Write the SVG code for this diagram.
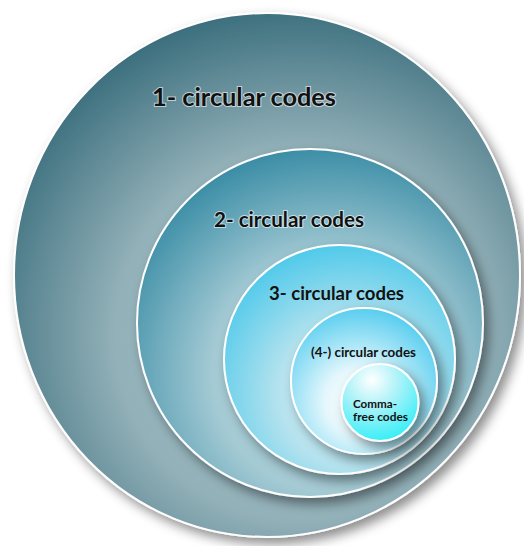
<svg xmlns="http://www.w3.org/2000/svg" width="524" height="546" viewBox="0 0 524 546">
<defs>
<filter id="sh" x="-20%" y="-20%" width="150%" height="150%">
<feDropShadow dx="5" dy="6" stdDeviation="6" flood-color="#000" flood-opacity="0.45"/>
</filter>
<radialGradient id="g1" gradientUnits="userSpaceOnUse" cx="300" cy="335" r="335">
<stop offset="0" stop-color="#a3bec6"/>
<stop offset="0.55" stop-color="#93b1b9"/>
<stop offset="1" stop-color="#386c7b"/>
</radialGradient>
<radialGradient id="g2" gradientUnits="userSpaceOnUse" cx="330" cy="375" r="235">
<stop offset="0" stop-color="#b5d5dd"/>
<stop offset="0.5" stop-color="#a4cad4"/>
<stop offset="1" stop-color="#358aa3"/>
</radialGradient>
<radialGradient id="g3" gradientUnits="userSpaceOnUse" cx="350" cy="395" r="160">
<stop offset="0" stop-color="#e2f4f8"/>
<stop offset="0.45" stop-color="#b4e2ee"/>
<stop offset="1" stop-color="#45c7ea"/>
</radialGradient>
<radialGradient id="g4" gradientUnits="userSpaceOnUse" cx="358" cy="402" r="95">
<stop offset="0" stop-color="#ffffff"/>
<stop offset="0.35" stop-color="#e4f7fc"/>
<stop offset="1" stop-color="#56cdef"/>
</radialGradient>
<radialGradient id="g5" gradientUnits="userSpaceOnUse" cx="372" cy="380" r="62">
<stop offset="0" stop-color="#ffffff"/>
<stop offset="0.4" stop-color="#b2f3f8"/>
<stop offset="1" stop-color="#38eef8"/>
</radialGradient>
</defs>
<style>
.c{stroke:#ffffff;stroke-width:2;filter:url(#sh)}
text{font-family:Lato,"Open Sans","Liberation Sans",sans-serif;font-weight:bold;fill:#111;text-anchor:middle}
.o{stroke:#ffffff;stroke-opacity:0.6;stroke-width:2;paint-order:stroke}
</style>
<g id="n1">
<ellipse class="c" cx="267" cy="275" rx="253" ry="262" fill="url(#g1)"/>
<text class="o" x="244" y="106" font-size="24" textLength="184" lengthAdjust="spacingAndGlyphs">1- circular codes</text>
</g>
<g id="n2">
<ellipse class="c" cx="310" cy="323" rx="173" ry="174" fill="url(#g2)"/>
<text class="o" x="289" y="227" font-size="20" textLength="150" lengthAdjust="spacingAndGlyphs">2- circular codes</text>
</g>
<g id="n3">
<ellipse class="c" cx="339.5" cy="359.5" rx="115.5" ry="114.5" fill="url(#g3)"/>
<text x="336.5" y="300" font-size="18.5" textLength="135" lengthAdjust="spacingAndGlyphs">3- circular codes</text>
</g>
<g id="n4">
<circle class="c" cx="364" cy="381" r="73" fill="url(#g4)"/>
<text x="363.5" y="357" font-size="12.5" textLength="105" lengthAdjust="spacingAndGlyphs">(4-) circular codes</text>
</g>
<g id="n5">
<circle class="c" cx="380" cy="402.5" r="38.5" fill="url(#g5)"/>
<text x="375" y="408" font-size="10.5" textLength="44" lengthAdjust="spacingAndGlyphs">Comma-</text>
<text x="380.5" y="421" font-size="10.5" textLength="55" lengthAdjust="spacingAndGlyphs">free codes</text>
</g>
<g id="connectors"/>
</svg>
